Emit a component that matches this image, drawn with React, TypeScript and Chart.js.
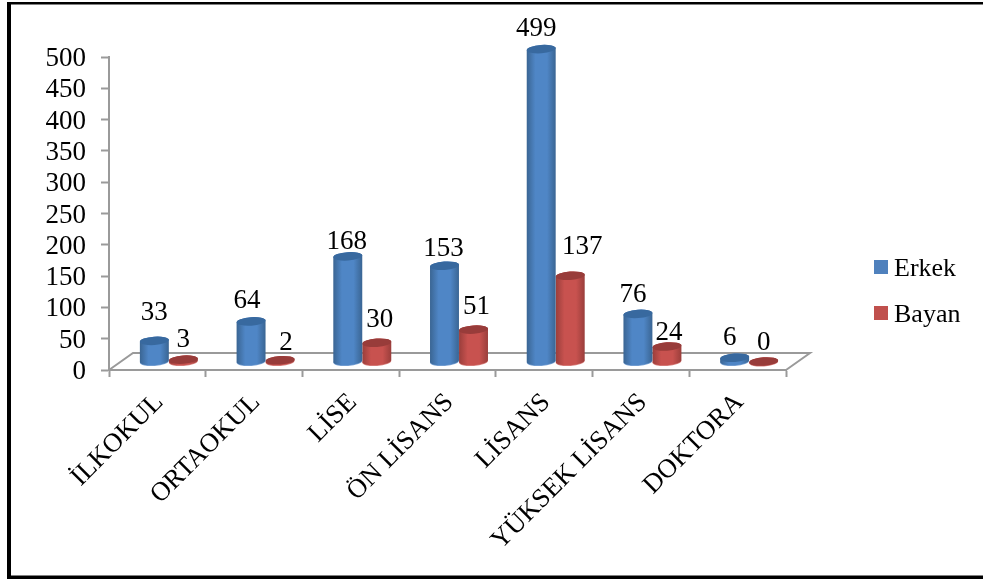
import React, { useEffect, useRef } from "react";
import { Chart, registerables } from "chart.js";

Chart.register(...registerables);

const categories = ["İLKOKUL", "ORTAOKUL", "LİSE", "ÖN LİSANS", "LİSANS", "YÜKSEK LİSANS", "DOKTORA"];
const erkek = [33, 64, 168, 153, 499, 76, 6];
const bayan = [3, 2, 30, 51, 137, 24, 0];
const yMax = 500;
const yStep = 50;

const FONT = "'Liberation Serif', 'Times New Roman', serif";
const FONT_SIZE = 27;
const AXIS = "#9a9a9a";

// nudges of each value label from the spot above its cylinder
const erkekLabelDx = [0, -4, -1, -1, -5, -5, -5];
const erkekLabelDy = [-31, -24, -18, -20, -24, -23, -23];
const bayanLabelDx = [0, 6, 3, 3, 12, 2, 0];
const bayanLabelDy = [-23, -21, -26, -26, -32, -17, -22];
const LABEL_SHIFT = 3.5;

const DEPTH_X = 24;
const DEPTH_Y = 17;
const BAR_DX = 11.5;
const BAR_DY = 8.5;
const CAP_RY = 4.2;
const CAP_TILT = -0.07;

const seriesLook = [
  { edge: "#3a6593", mid: "#4f86c6", cap: "#38699f", rim: "#7aa2d4", dx: erkekLabelDx, dy: erkekLabelDy },
  { edge: "#9a3e3b", mid: "#c8524f", cap: "#983c3a", rim: "#d8827f", dx: bayanLabelDx, dy: bayanLabelDy },
];

const cylinders = {
  id: "cylinders",
  beforeDatasetsDraw(chart: any) {
    const { ctx, chartArea: a } = chart;
    ctx.save();
    ctx.strokeStyle = AXIS;
    ctx.lineWidth = 2;
    ctx.beginPath();
    ctx.moveTo(a.left, a.bottom);
    ctx.lineTo(a.left + DEPTH_X, a.bottom - DEPTH_Y);
    ctx.lineTo(a.right + DEPTH_X, a.bottom - DEPTH_Y);
    ctx.lineTo(a.right, a.bottom);
    ctx.stroke();
    ctx.restore();
  },
  beforeDatasetDraw(chart: any, args: any) {
    const { ctx } = chart;
    const look = seriesLook[args.index];
    const meta = args.meta;
    ctx.save();
    meta.data.forEach((bar: any) => {
      const p = bar.getProps(["x", "y", "base", "width"], true);
      const cx = p.x + BAR_DX;
      const rx = p.width / 2;
      const top = p.y - BAR_DY;
      const base = p.base - BAR_DY;
      const g = ctx.createLinearGradient(cx - rx, 0, cx + rx, 0);
      g.addColorStop(0, look.edge);
      g.addColorStop(0.3, look.mid);
      g.addColorStop(0.7, look.mid);
      g.addColorStop(1, look.edge);
      // soft rim under the base
      ctx.fillStyle = look.rim;
      ctx.beginPath();
      ctx.ellipse(cx, base + 0.8, rx, CAP_RY, CAP_TILT, 0, Math.PI * 2);
      ctx.fill();
      // body
      ctx.fillStyle = g;
      ctx.beginPath();
      ctx.ellipse(cx, base, rx, CAP_RY, CAP_TILT, 0, Math.PI);
      ctx.ellipse(cx, top, rx, CAP_RY, CAP_TILT, Math.PI, 0);
      ctx.closePath();
      ctx.fill();
      // top cap
      ctx.fillStyle = look.cap;
      ctx.beginPath();
      ctx.ellipse(cx, top, rx, CAP_RY, CAP_TILT, 0, Math.PI * 2);
      ctx.fill();
    });
    ctx.restore();
    return false;
  },
  afterDatasetsDraw(chart: any) {
    const { ctx } = chart;
    ctx.save();
    ctx.fillStyle = "#000";
    ctx.font = `${FONT_SIZE}px ${FONT}`;
    ctx.textAlign = "center";
    ctx.textBaseline = "middle";
    chart.data.datasets.forEach((ds: any, i: number) => {
      const look = seriesLook[i];
      chart.getDatasetMeta(i).data.forEach((bar: any, j: number) => {
        const p = bar.getProps(["x", "y"], true);
        ctx.fillText(String(ds.data[j]), p.x + BAR_DX + look.dx[j], p.y - BAR_DY + look.dy[j] + LABEL_SHIFT);
      });
    });
    // legend
    ctx.font = `26px ${FONT}`;
    chart.data.datasets.forEach((ds: any, i: number) => {
      const y = 260 + i * 46;
      ctx.fillStyle = ds.backgroundColor;
      ctx.fillRect(874, y, 14, 14);
      ctx.fillStyle = "#000";
      ctx.textAlign = "left";
      ctx.fillText(ds.label, 894, y + 9);
    });
    // frame: heavy left side, thin top, heavy bottom, no right side
    ctx.fillStyle = "#000";
    ctx.fillRect(7, 2, 4, 577);
    ctx.fillRect(7, 2, 976, 2);
    ctx.fillRect(7, 576, 976, 3);
    ctx.fillStyle = "#808080";
    ctx.fillRect(11, 4, 972, 1);
    ctx.fillRect(11, 575, 972, 1);
    ctx.restore();
  },
};

export default function App() {
  const ref = useRef<HTMLCanvasElement>(null);
  useEffect(() => {
    const chart = new Chart(ref.current!, {
      type: "bar",
      data: {
        labels: categories,
        datasets: [
          { label: "Erkek", data: erkek, backgroundColor: "#4f81bd" },
          { label: "Bayan", data: bayan, backgroundColor: "#c0504d" },
        ],
      },
      options: {
        responsive: false,
        animation: false,
        devicePixelRatio: 1,
        categoryPercentage: 0.6,
        barPercentage: 1,
        layout: { padding: { left: 40, right: 197, top: 57, bottom: 0 } },
        plugins: { legend: { display: false }, tooltip: { enabled: false } },
        scales: {
          x: {
            afterFit(s: any) { s.height = 209; },
            grid: { drawOnChartArea: false, drawTicks: true, tickLength: 7, tickColor: AXIS, tickWidth: 2 },
            border: { color: AXIS, width: 2 },
            ticks: {
              color: "#000",
              font: { family: FONT, size: 26.6 },
              minRotation: 45,
              maxRotation: 45,
              autoSkip: false,
              labelOffset: 2,
              padding: 10,
            },
          },
          y: {
            min: 0,
            max: yMax,
            afterFit(s: any) { s.width = 69; },
            grid: { drawOnChartArea: false, drawTicks: true, tickLength: 8, tickColor: AXIS, tickWidth: 2 },
            border: { color: AXIS, width: 2 },
            ticks: {
              stepSize: yStep,
              autoSkip: false,
              color: "#000",
              font: { family: FONT, size: FONT_SIZE },
              padding: 15,
              labelOffset: 2,
            },
          },
        },
      },
      plugins: [cylinders],
    } as any);
    return () => chart.destroy();
  }, []);
  return (
    <div style={{ position: "absolute", left: 0, top: 0, background: "#fff" }}>
      <canvas ref={ref} width={983} height={579} style={{ display: "block" }} />
    </div>
  );
}
